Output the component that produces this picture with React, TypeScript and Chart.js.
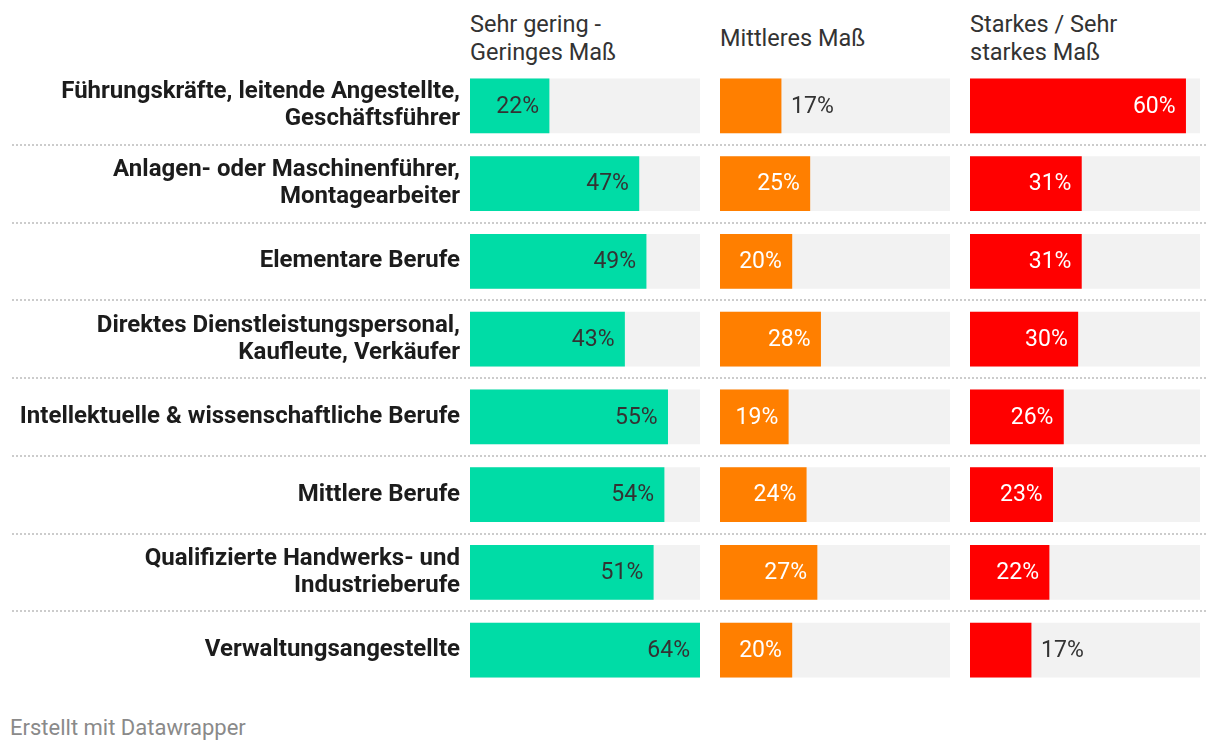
import React, { useEffect, useRef } from "react";
import { Chart, registerables } from "chart.js";

Chart.register(...registerables);

// ---------- data ----------
const categories: string[][] = [
  ["Führungskräfte, leitende Angestellte,", "Geschäftsführer"],
  ["Anlagen- oder Maschinenführer,", "Montagearbeiter"],
  ["Elementare Berufe"],
  ["Direktes Dienstleistungspersonal,", "Kaufleute, Verkäufer"],
  ["Intellektuelle & wissenschaftliche Berufe"],
  ["Mittlere Berufe"],
  ["Qualifizierte Handwerks- und", "Industrieberufe"],
  ["Verwaltungsangestellte"],
];
const columnTitles: string[][] = [
  ["Sehr gering -", "Geringes Maß"],
  ["Mittleres Maß"],
  ["Starkes / Sehr", "starkes Maß"],
];
const geringValues = [22, 47, 49, 43, 55, 54, 51, 64];
const mittelValues = [17, 25, 20, 28, 19, 24, 27, 20];
const starkValues = [60, 31, 31, 30, 26, 23, 22, 17];
const scaleMax = 64;
const footerText = "Erstellt mit Datawrapper";

// ---------- styles ----------
const FONT = "Roboto, 'Noto Sans', sans-serif";
const COLORS = ["#00dca6", "#ff7f00", "#ff0000"];
const INSIDE_TEXT = ["#333333", "#ffffff", "#ffffff"];
const TRACK = "#f2f2f2";
const CHART_TOP = 67;
const CHART_H = 622;
const COL_LEFT = [470, 720, 970];
const COL_W = 230;
const BAR_H = 54;

const valueLabelPlugin = {
  id: "valueLabels",
  afterDatasetsDraw(chart: any, _args: any, opts: any) {
    const ctx = chart.ctx;
    const meta = chart.getDatasetMeta(0);
    const ds = chart.data.datasets[0];
    const pad = 10;
    ctx.save();
    ctx.font = `400 23px ${FONT}`;
    ctx.textBaseline = "middle";
    meta.data.forEach((bar: any, i: number) => {
      const v = ds.data[i];
      const text = `${v}%`;
      const tw = ctx.measureText(text).width;
      const { x, y, base } = bar.getProps(["x", "y", "base"], true);
      const w = x - base;
      if (w >= tw + 2 * pad) {
        ctx.textAlign = "right";
        ctx.fillStyle = opts.insideColor;
        ctx.fillText(text, x - pad, y + 1);
      } else {
        ctx.textAlign = "left";
        ctx.fillStyle = "#333333";
        ctx.fillText(text, x + pad, y + 1);
      }
    });
    ctx.restore();
  },
};

const separatorPlugin = {
  id: "separators",
  beforeDatasetsDraw(chart: any, _args: any, opts: any) {
    if (!opts || !opts.enabled) return;
    const ctx = chart.ctx;
    const y = chart.scales.y;
    ctx.save();
    ctx.strokeStyle = "#cccccc";
    ctx.lineWidth = 2;
    ctx.setLineDash([2, 2]);
    for (let i = 0; i < categories.length - 1; i++) {
      const py = Math.round((y.getPixelForTick(i) + y.getPixelForTick(i + 1)) / 2);
      ctx.beginPath();
      ctx.moveTo(12, py);
      ctx.lineTo(1207, py);
      ctx.stroke();
    }
    ctx.restore();
  },
};

function makeConfig(col: number, values: number[], withAxis: boolean): any {
  return {
    type: "bar",
    data: {
      labels: categories,
      datasets: [
        {
          data: values,
          backgroundColor: COLORS[col],
          barThickness: BAR_H,
          grouped: false,
          order: 0,
          borderWidth: 0,
        },
        {
          data: values.map(() => scaleMax),
          backgroundColor: TRACK,
          barThickness: BAR_H,
          grouped: false,
          order: 1,
          borderWidth: 0,
        },
      ],
    },
    options: {
      indexAxis: "y",
      animation: false,
      responsive: false,
      devicePixelRatio: 1,
      events: [],
      layout: { padding: withAxis ? { left: 0, right: 1220 - (COL_LEFT[0] + COL_W), top: 0, bottom: 0 } : 0 },
      scales: {
        x: { display: false, min: 0, max: scaleMax },
        y: {
          display: withAxis,
          grid: { display: false, drawTicks: false },
          border: { display: false },
          ticks: {
            autoSkip: false,
            padding: 10,
            color: "#1c1c1c",
            font: { family: FONT, size: 24, weight: "bold", lineHeight: 1.13 },
          },
          afterFit: (scale: any) => {
            if (withAxis) {
              scale.width = COL_LEFT[0];
              scale.paddingTop = 0;
              scale.paddingBottom = 0;
            }
          },
        },
      },
      plugins: {
        legend: { display: false },
        tooltip: { enabled: false },
        valueLabels: { insideColor: INSIDE_TEXT[col] },
        separators: { enabled: withAxis },
      },
    },
    plugins: [valueLabelPlugin, separatorPlugin],
  };
}

function ChartCanvas(props: { col: number; values: number[]; withAxis: boolean; left: number; width: number }) {
  const ref = useRef<HTMLCanvasElement | null>(null);
  useEffect(() => {
    if (!ref.current) return;
    const chart = new Chart(ref.current, makeConfig(props.col, props.values, props.withAxis));
    return () => chart.destroy();
  }, []);
  return (
    <canvas
      ref={ref}
      width={props.width}
      height={CHART_H}
      style={{ position: "absolute", left: props.left, top: CHART_TOP, width: props.width, height: CHART_H }}
    />
  );
}

export default function App() {
  const series = [geringValues, mittelValues, starkValues];
  return (
    <div
      style={{
        position: "absolute",
        left: 0,
        top: 0,
        width: 1220,
        height: 754,
        background: "#ffffff",
        fontFamily: FONT,
        overflow: "hidden",
      }}
    >
      {columnTitles.map((lines, i) => (
        <div
          key={i}
          style={{
            position: "absolute",
            left: COL_LEFT[i],
            top: 10,
            height: 56,
            width: COL_W,
            display: "flex",
            flexDirection: "column",
            justifyContent: "center",
            fontSize: 23.5,
            lineHeight: "28px",
            color: "#333333",
          }}
        >
          {lines.map((l, j) => (
            <div key={j}>{l}</div>
          ))}
        </div>
      ))}
      <ChartCanvas col={0} values={series[0]} withAxis={true} left={0} width={1220} />
      <ChartCanvas col={1} values={series[1]} withAxis={false} left={COL_LEFT[1]} width={COL_W} />
      <ChartCanvas col={2} values={series[2]} withAxis={false} left={COL_LEFT[2]} width={COL_W} />
      <div
        style={{
          position: "absolute",
          left: 10,
          top: 714,
          fontSize: 22,
          lineHeight: "28px",
          color: "#8a8a8a",
        }}
      >
        {footerText}
      </div>
    </div>
  );
}
